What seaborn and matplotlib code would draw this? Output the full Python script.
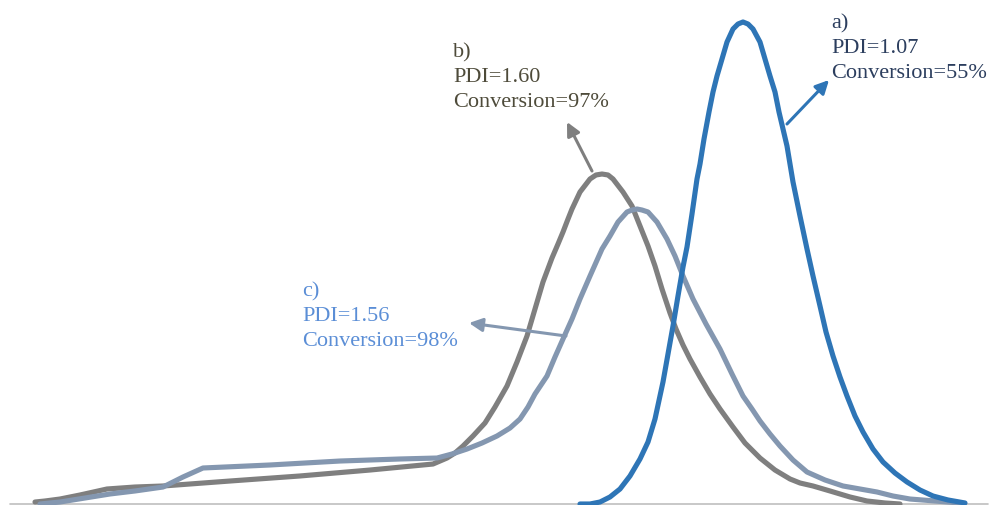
import matplotlib
matplotlib.use("Agg")
import matplotlib.pyplot as plt
import seaborn as sns
import pandas as pd

# Elution axis (arbitrary units) and detector signal
a_x = [580, 590, 600, 610, 620, 630, 640, 648, 655, 663, 668, 673, 678, 683, 687, 692, 697,
       700, 704, 709, 713, 717, 722, 727, 733, 738, 743, 748, 753, 760, 765, 770, 775, 779,
       787, 793, 800, 807, 813, 820, 826, 833, 840, 847, 855, 863, 873, 883, 895, 907, 920,
       933, 948, 965]
a_py = [505, 505, 503, 498, 490, 477, 460, 443, 420, 383, 355, 327, 297, 268, 248, 215, 180,
        165, 140, 113, 93, 77, 60, 43, 30, 25, 23, 25, 30, 43, 60, 77, 93, 113,
        147, 183, 217, 250, 277, 307, 333, 357, 378, 397, 417, 433, 450, 463, 474, 483, 491,
        497, 501, 504]

b_x = [35, 45, 60, 80, 107, 135, 163, 230, 300, 370, 433, 447, 455, 463, 473, 485, 495, 507,
       517, 527, 535, 543, 552, 558, 563, 568, 572, 580, 590, 596, 602, 608, 613, 623, 632,
       640, 648, 655, 662, 670, 676, 683, 690, 700, 710, 720, 733, 745, 760, 775, 790, 800,
       813, 830, 850, 867, 885, 900]
b_py = [503, 502, 500, 496, 490, 488, 487, 482, 477, 471, 465, 459, 454, 447, 437, 424, 408,
        387, 363, 337, 310, 283, 259, 245, 233, 220, 210, 193, 180, 176, 175, 176, 180, 193,
        207, 227, 247, 267, 290, 314, 330, 346, 360, 378, 395, 410, 428, 444, 459, 471, 480,
        484, 487, 492, 498, 502, 504, 505]

c_x = [40, 50, 60, 85, 110, 135, 163, 183, 203, 270, 340, 400, 437, 452, 467, 482, 497, 510,
       520, 528, 535, 547, 555, 563, 572, 580, 590, 602, 610, 618, 627, 632, 637, 642, 648,
       657, 667, 675, 683, 693, 706, 720, 732, 743, 752, 760, 770, 780, 793, 807, 825, 843,
       860, 877, 893, 910, 935, 960]
c_py = [505, 504, 503, 499, 495, 492, 488, 478, 469, 466, 462, 460, 459, 455, 450, 444, 437,
        429, 420, 408, 395, 377, 358, 340, 320, 300, 277, 250, 237, 223, 213, 211, 210, 211,
        213, 223, 240, 257, 277, 300, 325, 350, 375, 397, 410, 422, 435, 447, 461, 473, 481,
        487, 490, 493, 497, 500, 502, 504]

BASE = 505.0
SCALE = 484.0
a_y = [round((BASE - p) / SCALE, 4) for p in a_py]
b_y = [round((BASE - p) / SCALE, 4) for p in b_py]
c_y = [round((BASE - p) / SCALE, 4) for p in c_py]

labels = ["a)\nPDI=1.07\nConversion=55%",
          "b)\nPDI=1.60\nConversion=97%",
          "c)\nPDI=1.56\nConversion=98%"]

col_a = "#2E75B6"
col_b = "#7F7F7F"
col_c = "#8497B0"

sns.set_theme(style="white")
plt.rcParams['font.family'] = ['Liberation Serif', 'DejaVu Serif']

fig = plt.figure(figsize=(9.9, 5.06), dpi=100)
ax = fig.add_axes([0, 0, 1, 1])

df_b = pd.DataFrame({"x": b_x, "y": b_y})
df_c = pd.DataFrame({"x": c_x, "y": c_y})
df_a = pd.DataFrame({"x": a_x, "y": a_y})

line_kw = dict(lw=3.7, estimator=None, solid_capstyle="round", solid_joinstyle="round")
sns.lineplot(data=df_b, x="x", y="y", ax=ax, color=col_b, **line_kw)
sns.lineplot(data=df_c, x="x", y="y", ax=ax, color=col_c, **line_kw)
sns.lineplot(data=df_a, x="x", y="y", ax=ax, color=col_a, **line_kw)

ax.set_xlim(0, 990)
ax.set_ylim(-1 / SCALE, BASE / SCALE)
ax.axhline(0, xmin=10 / 990, xmax=988 / 990, color="#BFBFBF", lw=1.2, zorder=0)
for s in ax.spines.values():
    s.set_visible(False)
ax.set_xticks([])
ax.set_yticks([])
ax.set_xlabel("")
ax.set_ylabel("")


def py(p):
    return (BASE - p) / SCALE


fs = 16
ls = 1.42
ax.text(831, py(14), labels[0], color="#2C3E5E", fontsize=fs, va="top", ha="left", linespacing=ls)
ax.text(453, py(43), labels[1], color="#4E4B3A", fontsize=fs, va="top", ha="left", linespacing=ls)
ax.text(302, py(282), labels[2], color="#5B8ED6", fontsize=fs, va="top", ha="left", linespacing=ls)

arrow_kw = dict(arrowstyle="-|>", mutation_scale=20, shrinkA=0, shrinkB=0)
ax.annotate("", xy=(829, py(81)), xytext=(787, py(125)),
            arrowprops=dict(color=col_a, lw=2.2, **arrow_kw))
ax.annotate("", xy=(567, py(123)), xytext=(592, py(172)),
            arrowprops=dict(color=col_b, lw=2.2, **arrow_kw))
ax.annotate("", xy=(469, py(324)), xytext=(566, py(337)),
            arrowprops=dict(color=col_c, lw=2.2, **arrow_kw))

fig.savefig("out.png", dpi=100)
